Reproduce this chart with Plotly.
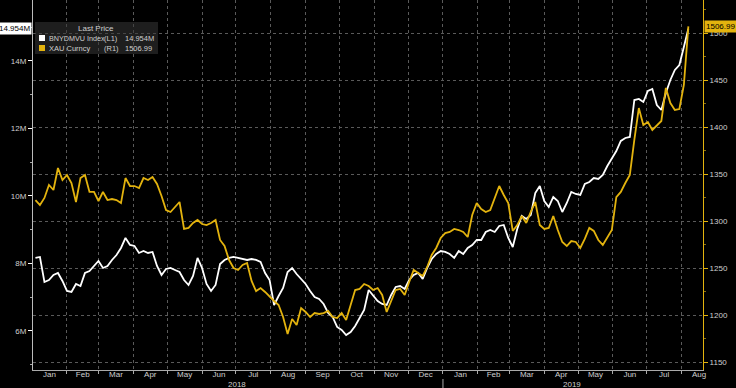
import pandas as pd
import plotly.graph_objects as go

# ---- data ----
dates = pd.date_range("2018-01-04", periods=146, freq="4D")

xau = [1322.3, 1317.0, 1324.5, 1338.3, 1333.0, 1356.4, 1343.6, 1349.0, 1340.4, 1320.2,
       1345.7, 1349.0, 1330.9, 1330.9, 1321.3, 1330.9, 1322.3, 1323.4, 1322.3, 1319.1,
       1345.7, 1337.2, 1337.2, 1335.1, 1345.7, 1343.6, 1346.8, 1339.4, 1326.6, 1311.7,
       1309.6, 1314.9, 1320.2, 1291.5, 1292.6, 1297.9, 1301.1, 1296.8, 1295.7, 1297.9,
       1301.1, 1279.8, 1273.4, 1258.5, 1250.0, 1247.9, 1253.2, 1255.3, 1236.2, 1225.5,
       1228.7, 1224.5, 1219.1, 1214.9, 1210.6, 1197.9, 1179.8, 1195.8, 1189.4, 1207.4,
       1203.2, 1197.9, 1202.1, 1201.1, 1202.1, 1204.3, 1197.9, 1196.8, 1202.1, 1194.7,
       1210.6, 1226.6, 1227.7, 1233.0, 1230.9, 1226.6, 1228.7, 1221.3, 1203.2, 1214.9,
       1226.6, 1227.7, 1221.3, 1235.1, 1247.9, 1244.7, 1241.5, 1251.1, 1263.8, 1271.3,
       1281.9, 1287.2, 1288.3, 1291.5, 1290.4, 1288.3, 1283.0, 1306.4, 1319.1, 1312.8,
       1309.6, 1311.7, 1324.5, 1337.2, 1327.7, 1319.1, 1289.4, 1295.7, 1305.3, 1297.9,
       1309.6, 1320.2, 1295.7, 1291.5, 1292.6, 1305.3, 1290.4, 1277.7, 1273.4, 1278.7,
       1277.7, 1271.3, 1280.9, 1292.6, 1289.4, 1279.8, 1274.5, 1283.0, 1290.4, 1325.5,
       1330.9, 1340.4, 1349.0, 1386.2, 1420.2, 1402.1, 1405.3, 1396.8, 1402.1, 1406.4,
       1441.5, 1425.5, 1418.1, 1419.1, 1444.7, 1506.99]

bny = [8.163, 8.193, 7.452, 7.511, 7.659, 7.719, 7.481, 7.185, 7.156, 7.393,
       7.333, 7.719, 7.778, 7.926, 8.074, 7.867, 7.926, 8.104, 8.252, 8.459,
       8.756, 8.548, 8.519, 8.311, 8.370, 8.311, 8.341, 7.926, 7.659, 7.837,
       7.867, 7.807, 7.748, 7.511, 7.363, 7.630, 8.163, 7.867, 7.393, 7.185,
       7.363, 7.985, 8.104, 8.163, 8.193, 8.163, 8.133, 8.104, 8.133, 8.104,
       8.044, 7.719, 7.511, 6.770, 7.037, 7.274, 7.748, 7.867, 7.689, 7.541,
       7.393, 7.185, 7.007, 6.948, 6.800, 6.533, 6.415, 6.119, 6.030, 5.881,
       5.970, 6.148, 6.385, 6.622, 7.215, 7.037, 6.889, 6.800, 6.770, 7.067,
       7.304, 7.333, 7.244, 7.511, 7.659, 7.719, 7.541, 7.867, 8.133, 8.281,
       8.370, 8.341, 8.281, 8.163, 8.370, 8.281, 8.459, 8.548, 8.696, 8.696,
       8.933, 8.993, 8.933, 9.111, 9.141, 8.756, 8.489, 9.022, 9.407, 9.319,
       9.437, 10.089, 10.296, 9.852, 9.674, 9.970, 9.852, 9.526, 9.793, 10.119,
       10.059, 10.030, 10.356, 10.415, 10.533, 10.504, 10.622, 10.889, 11.126, 11.333,
       11.630, 11.719, 11.748, 12.844, 12.874, 12.785, 13.111, 13.170, 12.696, 12.548,
       13.052, 13.437, 13.733, 13.881, 14.415, 14.954]

left_ticks = [6, 8, 10, 12, 14]
left_labels = ["6M", "8M", "10M", "12M", "14M"]
right_ticks = [1150, 1200, 1250, 1300, 1350, 1400, 1450, 1500]
year_labels = ["2018", "2019"]
year_pos = ["2018-07-02", "2019-04-26"]

WHITE = "#ffffff"
GOLD = "#e3b30e"
GRID = "#5a5a5a"
TXT = "#cfcfcf"
FONT = "Liberation Sans, Arial, sans-serif"
FS = 8

W, H = 736, 388
ML, MR, MT, MB = 33, 33, 0, 18
PW, PH = W - ML - MR, H - MT - MB


def px(xp):
    return (xp - ML) / PW


def py(yp):
    return 1 - (yp - MT) / PH


fig = go.Figure()
fig.add_trace(go.Scatter(x=dates, y=bny, mode="lines", name="BNYDMVU Index (L1)",
                         line=dict(color=WHITE, width=1.8), yaxis="y"))
fig.add_trace(go.Scatter(x=dates, y=xau, mode="lines", name="XAU Curncy (R1)",
                         line=dict(color=GOLD, width=1.8), yaxis="y2"))

shapes = [
    # legend box
    dict(type="rect", xref="paper", yref="paper", x0=px(35), x1=px(158), y0=py(54), y1=py(22),
         fillcolor="rgba(55,55,55,0.55)", line=dict(width=0), layer="above"),
    dict(type="rect", xref="paper", yref="paper", x0=px(39), x1=px(45), y0=py(41), y1=py(35),
         fillcolor=WHITE, line=dict(width=0), layer="above"),
    dict(type="rect", xref="paper", yref="paper", x0=px(39), x1=px(45), y0=py(51), y1=py(45),
         fillcolor=GOLD, line=dict(width=0), layer="above"),
    # year separator below axis
    dict(type="line", xref="x", yref="paper", x0="2019-01-01", x1="2019-01-01",
         y0=py(379), y1=py(388), line=dict(color="#aaaaaa", width=1)),
]


def txt(x, y, s, anchor, size=FS):
    return dict(xref="paper", yref="paper", x=px(x), y=py(y), text=s, showarrow=False,
                font=dict(color=TXT, size=size, family=FONT), xanchor=anchor, yanchor="middle")


annotations = [
    txt(96, 29, "Last Price", "center"),
    txt(47, 38, "BNYDMVU Index", "left", 7.2),
    txt(102, 38, "(L1)", "left", 7.5),
    txt(156, 38, "14.954M", "right", 7.5),
    txt(47, 48, "XAU Curncy", "left", 7.5),
    txt(102, 48, "(R1)", "left", 7.5),
    txt(154, 48, "1506.99", "right", 7.5),
    # last value tags
    dict(xref="paper", yref="y", x=0, y=bny[-1], text="14.954M", showarrow=False,
         xanchor="right", yanchor="middle", bgcolor=WHITE, borderpad=1,
         font=dict(color="#000000", size=FS, family=FONT), xshift=-1),
    dict(xref="paper", yref="y2", x=1, y=xau[-1], text="1506.99", showarrow=False,
         xanchor="left", yanchor="middle", bgcolor=GOLD, borderpad=1,
         font=dict(color="#000000", size=FS, family=FONT), xshift=1),
]
for lab, pos in zip(year_labels, year_pos):
    annotations.append(dict(xref="x", yref="paper", x=pos, y=py(384), text=lab, showarrow=False,
                            xanchor="center", yanchor="middle",
                            font=dict(color=TXT, size=FS, family=FONT)))

fig.update_layout(
    width=W, height=H,
    margin=dict(l=ML, r=MR, t=MT, b=MB, pad=0),
    paper_bgcolor="#000000", plot_bgcolor="#000000",
    showlegend=False,
    font=dict(family=FONT, color=TXT, size=FS),
    shapes=shapes, annotations=annotations,
    xaxis=dict(
        type="date", range=["2018-01-01 20:00", "2019-08-20"],
        dtick="M1", tick0="2018-01-01", tickformat="%b", ticklabelmode="period",
        showgrid=True, gridcolor=GRID, griddash="dot", gridwidth=1,
        ticks="outside", ticklen=3, tickcolor="#aaaaaa", ticklabelstandoff=-7,
        showline=True, linecolor="#aaaaaa", linewidth=1,
        tickfont=dict(color=TXT, size=FS, family=FONT), zeroline=False,
    ),
    yaxis=dict(
        range=[4.844, 15.807], tickvals=left_ticks, ticktext=left_labels,
        showgrid=False, zeroline=False,
        ticks="outside", ticklen=4, tickcolor=WHITE,
        minor=dict(dtick=1, tick0=5, ticks="outside", ticklen=2, tickcolor="#aaaaaa", showgrid=False),
        showline=True, linecolor="#bbbbbb", linewidth=1,
        tickfont=dict(color=TXT, size=FS, family=FONT),
    ),
    yaxis2=dict(
        range=[1141.5, 1535.1], tickvals=right_ticks, overlaying="y", side="right",
        showgrid=True, gridcolor=GRID, griddash="dot", gridwidth=1, zeroline=False,
        ticks="outside", ticklen=4, tickcolor=GOLD,
        minor=dict(dtick=25, tick0=1125, ticks="outside", ticklen=2, tickcolor="#8a7010", showgrid=False),
        showline=True, linecolor=GOLD, linewidth=1,
        tickfont=dict(color=TXT, size=FS, family=FONT),
    ),
)

fig.write_html("out.html", config={"displayModeBar": False},
               post_script="document.body.style.margin='0';")
